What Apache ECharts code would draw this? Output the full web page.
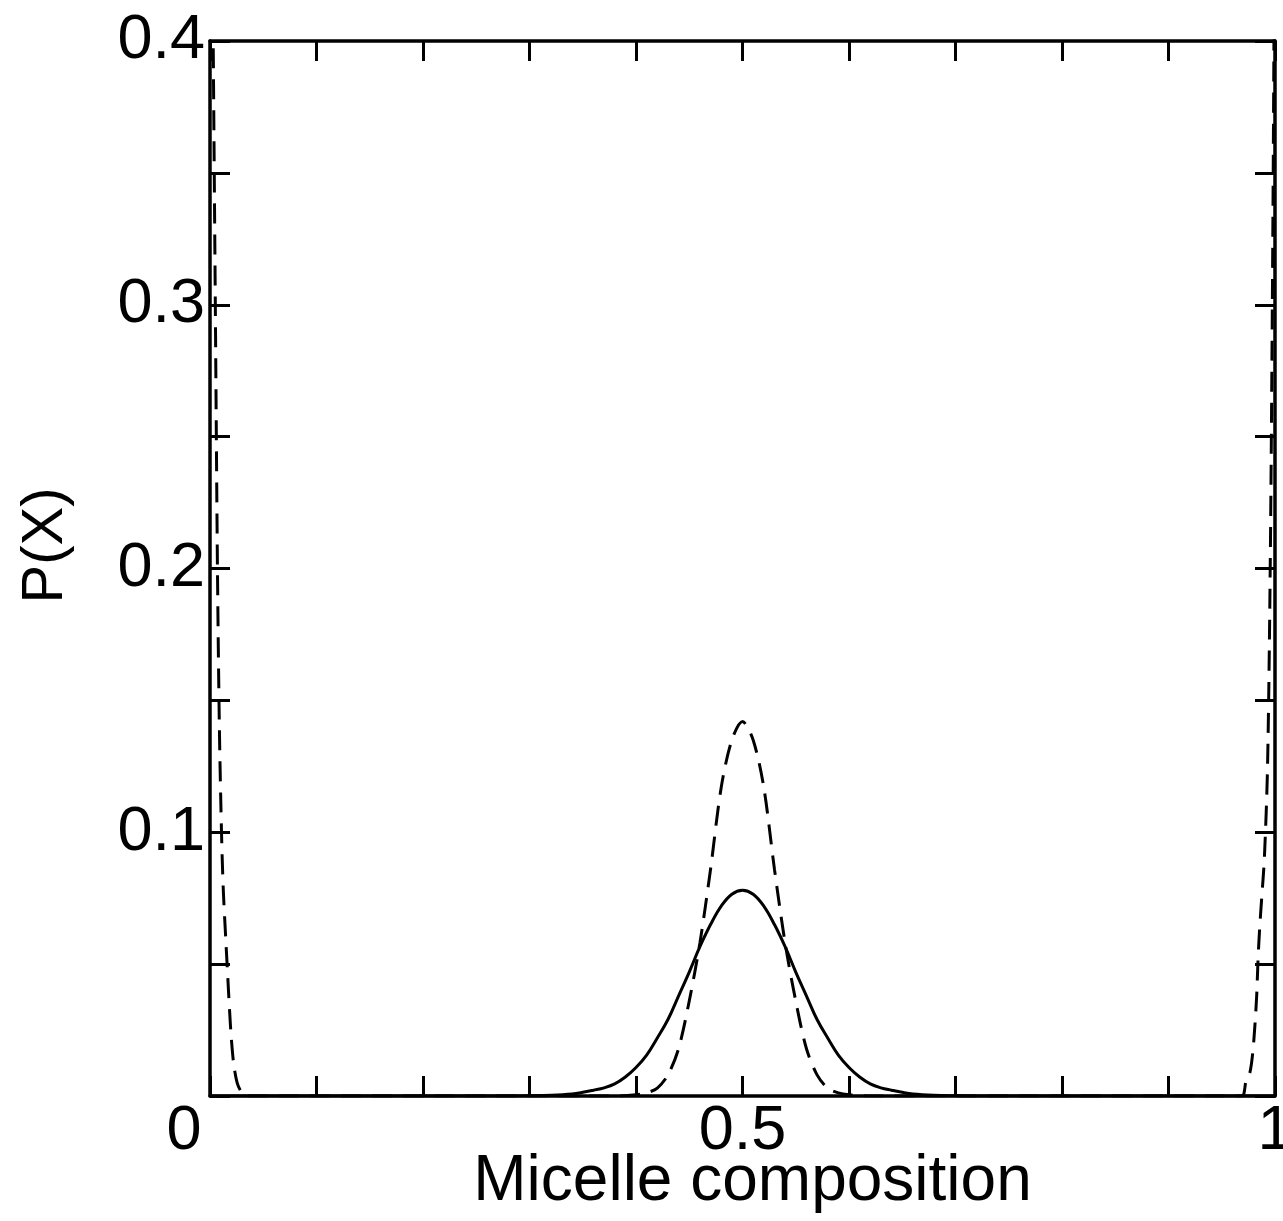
<!DOCTYPE html>
<html>
<head>
<meta charset="utf-8">
<script src="https://cdn.jsdelivr.net/npm/echarts@6/dist/echarts.min.js"></script>
<style>
  html, body { margin: 0; padding: 0; background: #ffffff; }
  #chart { width: 1283px; height: 1221px; }
</style>
</head>
<body>
<div id="chart"></div>
<script>
// ---- Data ----
// Dashed curve (x, P(X))
const dashedX = [0, 0.003, 0.005, 0.007, 0.0088, 0.0108, 0.0125, 0.015, 0.0167, 0.0183, 0.020, 0.0223, 0.0255, 0.0293, 0.033, 0.06,
  0.38, 0.40, 0.41, 0.42, 0.43, 0.44, 0.45, 0.46, 0.47, 0.48, 0.49, 0.50, 0.51, 0.52, 0.53, 0.54, 0.55, 0.56, 0.57, 0.58, 0.59, 0.60, 0.62,
  0.94, 0.9687, 0.9728, 0.9765, 0.979, 0.981, 0.9828, 0.984, 0.9855, 0.9875, 0.990, 0.993, 0.9955, 0.9975, 0.999, 1];
const dashedY = [0.55, 0.40, 0.30, 0.20, 0.14, 0.10, 0.078, 0.058, 0.045, 0.033, 0.022, 0.012, 0.005, 0.0016, 0, 0,
  0, 0.0005, 0.0012, 0.003, 0.008, 0.018, 0.036, 0.058, 0.086, 0.117, 0.135, 0.142, 0.135, 0.117, 0.086, 0.058, 0.036, 0.018, 0.008, 0.003, 0.0012, 0.0005, 0,
  0, 0, 0.0057, 0.009, 0.016, 0.026, 0.038, 0.051, 0.063, 0.075, 0.09, 0.125, 0.20, 0.30, 0.40, 0.50];

// Solid curve (x, P(X))
const solidX = [0, 0.28, 0.30, 0.32, 0.34, 0.35, 0.36, 0.37, 0.38, 0.39, 0.40, 0.41, 0.42, 0.43, 0.44, 0.45, 0.46, 0.47, 0.48, 0.49, 0.50,
  0.51, 0.52, 0.53, 0.54, 0.55, 0.56, 0.57, 0.58, 0.59, 0.60, 0.61, 0.62, 0.63, 0.64, 0.65, 0.66, 0.68, 0.70, 0.72, 1];
const solidY = [0, 0, 0.0001, 0.0003, 0.0008, 0.0014, 0.0022, 0.0031, 0.0046, 0.0072, 0.0108, 0.0155, 0.022, 0.029, 0.038, 0.047, 0.0566, 0.065, 0.072, 0.0765, 0.078,
  0.0765, 0.072, 0.065, 0.0566, 0.047, 0.038, 0.029, 0.022, 0.0155, 0.0108, 0.0072, 0.0046, 0.0031, 0.0022, 0.0014, 0.0008, 0.0003, 0.0001, 0, 0];

// Tick labels
const xTickLabels = ['0', '0.5', '1'];
const yTickLabels = ['0.1', '0.2', '0.3', '0.4'];
const xAxisTitle = 'Micelle composition';
const yAxisTitle = 'P(X)';

// ---- Build ----
const pair = (xs, ys) => xs.map((x, i) => [x, ys[i]]);
const fmt = v => String(+Number(v).toFixed(3));
const FONT = '"Liberation Sans", Arial, Helvetica, sans-serif';

const tickStyle = { show: true, inside: true, length: 20, lineStyle: { color: '#000', width: 3 } };
const lineStyle = { color: '#000', width: 3.5 };

const chart = echarts.init(document.getElementById('chart'), null, { renderer: 'canvas' });
chart.setOption({
  backgroundColor: '#ffffff',
  animation: false,
  grid: { left: 210, right: 8, top: 41, bottom: 125, containLabel: false, outerBoundsMode: 'none' },
  xAxis: [
    {
      type: 'value', min: 0, max: 1, interval: 0.1, position: 'bottom',
      axisLine: { show: true, onZero: false, lineStyle },
      axisTick: tickStyle,
      splitLine: { show: false },
      axisLabel: {
        margin: 4,
        color: '#000', fontFamily: FONT, fontSize: 63,
        formatter: v => {
          const s = fmt(v);
          if (!xTickLabels.includes(s)) return '';
          return s === '0' ? '{o|0}' : s;
        },
        rich: { o: { fontFamily: FONT, fontSize: 63, color: '#000', padding: [0, 52, 0, 0] } }
      },
      name: xAxisTitle, nameLocation: 'middle', nameGap: 54, nameMoveOverlap: false,
      nameTextStyle: { color: '#000', fontFamily: FONT, fontSize: 64, padding: [0, 0, 0, 20] }
    },
    {
      type: 'value', min: 0, max: 1, interval: 0.1, position: 'top',
      axisLine: { show: true, onZero: false, lineStyle },
      axisTick: tickStyle, axisLabel: { show: false }, splitLine: { show: false }
    }
  ],
  yAxis: [
    {
      type: 'value', min: 0, max: 0.4, interval: 0.05, position: 'left',
      axisLine: { show: true, onZero: false, lineStyle },
      axisTick: tickStyle,
      splitLine: { show: false },
      axisLabel: {
        margin: 5, color: '#000', fontFamily: FONT, fontSize: 63,
        formatter: v => { const s = fmt(v); return yTickLabels.includes(s) ? s : ''; }
      },
      name: yAxisTitle, nameLocation: 'middle', nameGap: 135, nameMoveOverlap: false,
      nameTextStyle: { color: '#000', fontFamily: FONT, fontSize: 58, padding: [0, 0, 0, 46] }
    },
    {
      type: 'value', min: 0, max: 0.4, interval: 0.05, position: 'right',
      axisLine: { show: true, onZero: false, lineStyle },
      axisTick: tickStyle, axisLabel: { show: false }, splitLine: { show: false }
    }
  ],
  series: [
    {
      type: 'line', name: 'solid', data: pair(solidX, solidY),
      xAxisIndex: 0, yAxisIndex: 0,
      showSymbol: false, smooth: 0.4, clip: true,
      lineStyle: { color: '#000', width: 3, type: 'solid' }
    },
    {
      type: 'line', name: 'dashed', data: pair(dashedX, dashedY),
      xAxisIndex: 0, yAxisIndex: 0,
      showSymbol: false, smooth: 0.3, clip: true,
      lineStyle: { color: '#000', width: 3, type: [20, 11] }
    }
  ]
});
</script>
</body>
</html>
